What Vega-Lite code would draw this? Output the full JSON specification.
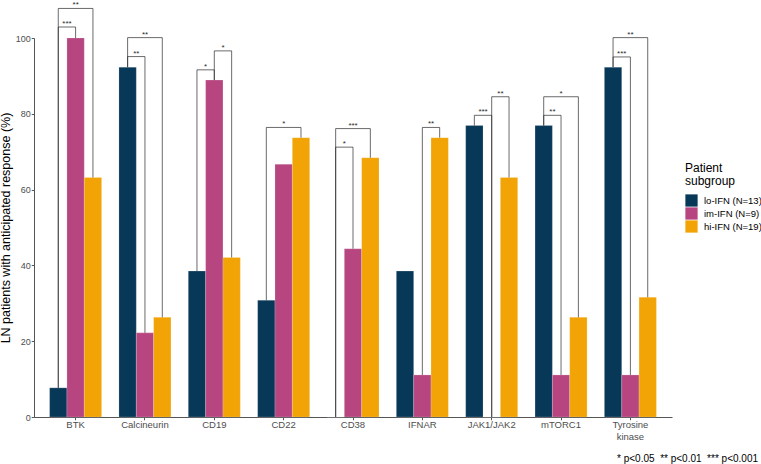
{
  "$schema": "https://vega.github.io/schema/vega-lite/v6.json",
  "width": 638,
  "height": 379,
  "autosize": {"type": "none"},
  "padding": {"left": 34, "top": 38, "right": 89, "bottom": 47},
  "config": {
    "font": "Liberation Sans",
    "view": {"stroke": null},
    "axis": {"grid": false, "domainColor": "#555555", "domainWidth": 1, "tickColor": "#555555", "tickSize": 2.75, "labelColor": "#4d4d4d", "labelFontSize": 9, "labelFont": "Liberation Sans", "titleFont": "Liberation Sans", "titleFontWeight": "normal", "titleColor": "#000000"}
  },
  "title": {
    "text": "* p<0.05 \u00a0** p<0.01 \u00a0*** p<0.001",
    "orient": "bottom",
    "anchor": "end",
    "frame": "group",
    "dx": 86,
    "offset": 13,
    "fontSize": 10,
    "fontWeight": "normal",
    "color": "#000000",
    "font": "Liberation Sans"
  },
  "datasets": {
    "bars": [
      {"target": "BTK", "group": "lo-IFN (N=13)", "pct": 7.7},
      {"target": "BTK", "group": "im-IFN (N=9)", "pct": 100},
      {"target": "BTK", "group": "hi-IFN (N=19)", "pct": 63.2},
      {"target": "Calcineurin", "group": "lo-IFN (N=13)", "pct": 92.3},
      {"target": "Calcineurin", "group": "im-IFN (N=9)", "pct": 22.2},
      {"target": "Calcineurin", "group": "hi-IFN (N=19)", "pct": 26.3},
      {"target": "CD19", "group": "lo-IFN (N=13)", "pct": 38.5},
      {"target": "CD19", "group": "im-IFN (N=9)", "pct": 88.9},
      {"target": "CD19", "group": "hi-IFN (N=19)", "pct": 42.1},
      {"target": "CD22", "group": "lo-IFN (N=13)", "pct": 30.8},
      {"target": "CD22", "group": "im-IFN (N=9)", "pct": 66.7},
      {"target": "CD22", "group": "hi-IFN (N=19)", "pct": 73.7},
      {"target": "CD38", "group": "lo-IFN (N=13)", "pct": 0},
      {"target": "CD38", "group": "im-IFN (N=9)", "pct": 44.4},
      {"target": "CD38", "group": "hi-IFN (N=19)", "pct": 68.4},
      {"target": "IFNAR", "group": "lo-IFN (N=13)", "pct": 38.5},
      {"target": "IFNAR", "group": "im-IFN (N=9)", "pct": 11.1},
      {"target": "IFNAR", "group": "hi-IFN (N=19)", "pct": 73.7},
      {"target": "JAK1/JAK2", "group": "lo-IFN (N=13)", "pct": 76.9},
      {"target": "JAK1/JAK2", "group": "im-IFN (N=9)", "pct": 0},
      {"target": "JAK1/JAK2", "group": "hi-IFN (N=19)", "pct": 63.2},
      {"target": "mTORC1", "group": "lo-IFN (N=13)", "pct": 76.9},
      {"target": "mTORC1", "group": "im-IFN (N=9)", "pct": 11.1},
      {"target": "mTORC1", "group": "hi-IFN (N=19)", "pct": 26.3},
      {"target": "Tyrosine kinase", "group": "lo-IFN (N=13)", "pct": 92.3},
      {"target": "Tyrosine kinase", "group": "im-IFN (N=9)", "pct": 11.1},
      {"target": "Tyrosine kinase", "group": "hi-IFN (N=19)", "pct": 31.6}
    ],
    "brackets": [
      {"target": "BTK", "g1": "lo-IFN (N=13)", "g2": "im-IFN (N=9)", "y1": 7.7, "y2": 100, "h": 102.9, "label": "***"},
      {"target": "BTK", "g1": "lo-IFN (N=13)", "g2": "hi-IFN (N=19)", "y1": 7.7, "y2": 63.2, "h": 107.8, "label": "**"},
      {"target": "Calcineurin", "g1": "lo-IFN (N=13)", "g2": "im-IFN (N=9)", "y1": 92.3, "y2": 22.2, "h": 95.1, "label": "**"},
      {"target": "Calcineurin", "g1": "lo-IFN (N=13)", "g2": "hi-IFN (N=19)", "y1": 92.3, "y2": 26.3, "h": 100.1, "label": "**"},
      {"target": "CD19", "g1": "lo-IFN (N=13)", "g2": "im-IFN (N=9)", "y1": 38.5, "y2": 88.9, "h": 91.6, "label": "*"},
      {"target": "CD19", "g1": "im-IFN (N=9)", "g2": "hi-IFN (N=19)", "y1": 88.9, "y2": 42.1, "h": 96.6, "label": "*"},
      {"target": "CD22", "g1": "lo-IFN (N=13)", "g2": "hi-IFN (N=19)", "y1": 30.8, "y2": 73.7, "h": 76.4, "label": "*"},
      {"target": "CD38", "g1": "lo-IFN (N=13)", "g2": "im-IFN (N=9)", "y1": 0, "y2": 44.4, "h": 71.2, "label": "*"},
      {"target": "CD38", "g1": "lo-IFN (N=13)", "g2": "hi-IFN (N=19)", "y1": 0, "y2": 68.4, "h": 76.1, "label": "***"},
      {"target": "IFNAR", "g1": "im-IFN (N=9)", "g2": "hi-IFN (N=19)", "y1": 11.1, "y2": 73.7, "h": 76.4, "label": "**"},
      {"target": "JAK1/JAK2", "g1": "lo-IFN (N=13)", "g2": "im-IFN (N=9)", "y1": 76.9, "y2": 0, "h": 79.6, "label": "***"},
      {"target": "JAK1/JAK2", "g1": "im-IFN (N=9)", "g2": "hi-IFN (N=19)", "y1": 0, "y2": 63.2, "h": 84.5, "label": "**"},
      {"target": "mTORC1", "g1": "lo-IFN (N=13)", "g2": "im-IFN (N=9)", "y1": 76.9, "y2": 11.1, "h": 79.6, "label": "**"},
      {"target": "mTORC1", "g1": "lo-IFN (N=13)", "g2": "hi-IFN (N=19)", "y1": 76.9, "y2": 26.3, "h": 84.5, "label": "*"},
      {"target": "Tyrosine kinase", "g1": "lo-IFN (N=13)", "g2": "im-IFN (N=9)", "y1": 92.3, "y2": 11.1, "h": 95.0, "label": "***"},
      {"target": "Tyrosine kinase", "g1": "lo-IFN (N=13)", "g2": "hi-IFN (N=19)", "y1": 92.3, "y2": 31.6, "h": 100.1, "label": "**"}
    ]
  },
  "encoding": {
    "x": {
      "field": "target", "type": "nominal",
      "scale": {"domain": ["BTK", "Calcineurin", "CD19", "CD22", "CD38", "IFNAR", "JAK1/JAK2", "mTORC1", "Tyrosine kinase"], "paddingInner": 0.25, "paddingOuter": 0.225},
      "axis": {"title": null, "labelAngle": 0, "labelPadding": 0, "labelFontSize": 9.5, "labelLineHeight": 11.5, "labelExpr": "datum.value == 'Tyrosine kinase' ? ['Tyrosine', 'kinase'] : datum.value"}
    }
  },
  "layer": [
    {
      "data": {"name": "bars"},
      "mark": {"type": "bar", "stroke": "#ffffff", "strokeWidth": 0.3, "strokeOpacity": 0.6},
      "encoding": {
        "xOffset": {"field": "group", "type": "nominal", "scale": {"domain": ["lo-IFN (N=13)", "im-IFN (N=9)", "hi-IFN (N=19)"], "paddingInner": 0, "paddingOuter": 0}},
        "y": {"field": "pct", "type": "quantitative", "scale": {"domain": [0, 100], "nice": false},
          "axis": {"title": "LN patients with anticipated response (%)", "titleFontSize": 12.5, "titlePadding": 3, "values": [0, 20, 40, 60, 80, 100], "labelPadding": 1}},
        "color": {"field": "group", "type": "nominal",
          "scale": {"domain": ["lo-IFN (N=13)", "im-IFN (N=9)", "hi-IFN (N=19)"], "range": ["#083858", "#B74680", "#F2A305"]},
          "legend": {"title": ["Patient", "subgroup"], "orient": "none", "legendX": 651, "legendY": 125, "titleFontSize": 12, "titleFontWeight": "normal", "titleLineHeight": 13, "titlePadding": 6, "titleColor": "#000000", "labelFontSize": 9.5, "labelColor": "#000000", "labelOffset": 6, "symbolType": "square", "symbolSize": 150, "symbolStrokeWidth": 0, "rowPadding": 0}}
      }
    },
    {
      "data": {"name": "brackets"},
      "mark": {"type": "rule", "color": "#2b2b2b", "strokeWidth": 0.7},
      "encoding": {
        "xOffset": {"field": "g1", "type": "nominal"},
        "y": {"field": "y1", "type": "quantitative"},
        "y2": {"field": "h"}
      }
    },
    {
      "data": {"name": "brackets"},
      "mark": {"type": "rule", "color": "#2b2b2b", "strokeWidth": 0.7},
      "encoding": {
        "xOffset": {"field": "g2", "type": "nominal"},
        "y": {"field": "y2", "type": "quantitative"},
        "y2": {"field": "h"}
      }
    },
    {
      "data": {"name": "brackets"},
      "transform": [{"fold": ["g1", "g2"], "as": ["side", "grp"]}],
      "mark": {"type": "line", "color": "#2b2b2b", "strokeWidth": 0.7},
      "encoding": {
        "xOffset": {"field": "grp", "type": "nominal"},
        "y": {"field": "h", "type": "quantitative"},
        "detail": [{"field": "target"}, {"field": "g1"}, {"field": "g2"}],
        "order": {"field": "side"}
      }
    },
    {
      "data": {"name": "brackets"},
      "transform": [{"filter": "!(datum.g1 == 'lo-IFN (N=13)' && datum.g2 == 'hi-IFN (N=19)')"}],
      "mark": {"type": "text", "fontSize": 8, "dx": 8.7, "dy": -1, "baseline": "alphabetic", "color": "#2b2b2b"},
      "encoding": {
        "xOffset": {"field": "g1", "type": "nominal"},
        "y": {"field": "h", "type": "quantitative"},
        "text": {"field": "label"}
      }
    },
    {
      "data": {"name": "brackets"},
      "transform": [{"filter": "datum.g1 == 'lo-IFN (N=13)' && datum.g2 == 'hi-IFN (N=19)'"}],
      "mark": {"type": "text", "fontSize": 8, "dx": 17.4, "dy": -1, "baseline": "alphabetic", "color": "#2b2b2b"},
      "encoding": {
        "xOffset": {"field": "g1", "type": "nominal"},
        "y": {"field": "h", "type": "quantitative"},
        "text": {"field": "label"}
      }
    }
  ]
}
